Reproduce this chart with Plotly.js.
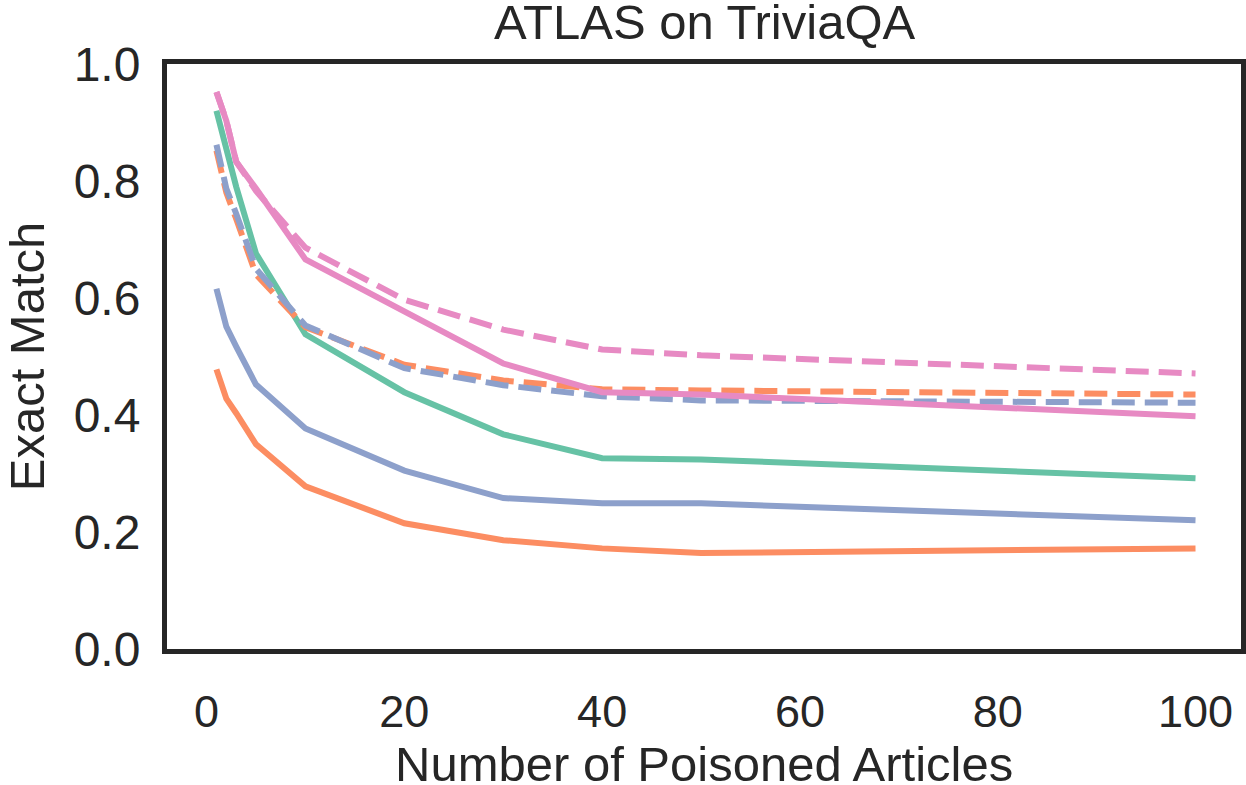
<!DOCTYPE html>
<html>
<head>
<meta charset="utf-8">
<script src="https://cdn.plot.ly/plotly-3.0.1.min.js"></script>
<style>
  html, body { margin: 0; padding: 0; background: #ffffff; }
  #chart { width: 1246px; height: 785px; }
</style>
</head>
<body>
<div id="chart"></div>
<script>
// Number of poisoned articles injected into the retrieval corpus
const articles = [1, 2, 3, 5, 10, 20, 30, 40, 50, 100];

// Exact Match of ATLAS on TriviaQA for each setting
const greenSolid   = [0.920, 0.853, 0.790, 0.676, 0.538, 0.439, 0.367, 0.326, 0.324, 0.292];
const orangeSolid  = [0.478, 0.428, 0.403, 0.350, 0.278, 0.215, 0.186, 0.172, 0.164, 0.172];
const orangeDashed = [0.852, 0.780, 0.735, 0.640, 0.550, 0.486, 0.459, 0.444, 0.442, 0.435];
const blueSolid    = [0.616, 0.551, 0.517, 0.452, 0.377, 0.305, 0.258, 0.249, 0.249, 0.220];
const blueDashed   = [0.862, 0.787, 0.744, 0.650, 0.553, 0.480, 0.451, 0.432, 0.425, 0.421];
const pinkSolid    = [0.952, 0.903, 0.833, 0.787, 0.666, 0.577, 0.488, 0.439, 0.435, 0.398];
const pinkDashed   = [0.952, 0.903, 0.833, 0.783, 0.686, 0.597, 0.546, 0.512, 0.502, 0.471];

const xTicks = [0, 20, 40, 60, 80, 100];
const yTicks = [0.0, 0.2, 0.4, 0.6, 0.8, 1.0];

const GREEN = '#66c2a5', ORANGE = '#fc8d62', BLUE = '#8da0cb', PINK = '#e78ac3';
const DASH = '23px,10px';
const INK = '#262626';
const FONT = 'Liberation Sans, Arial, Helvetica, sans-serif';

function line(y, color, dashed) {
  return {
    x: articles, y: y, type: 'scatter', mode: 'lines',
    line: { color: color, width: 6, dash: dashed ? DASH : 'solid', shape: 'linear' },
    hoverinfo: 'x+y', showlegend: false
  };
}

const traces = [
  line(greenSolid, GREEN, false),
  line(orangeSolid, ORANGE, false),
  line(orangeDashed, ORANGE, true),
  line(blueSolid, BLUE, false),
  line(blueDashed, BLUE, true),
  line(pinkSolid, PINK, false),
  line(pinkDashed, PINK, true)
];

const layout = {
  width: 1246, height: 785,
  margin: { l: 167, r: 5, t: 64, b: 136, pad: 0 },
  paper_bgcolor: '#ffffff', plot_bgcolor: '#ffffff',
  font: { family: FONT, color: INK, size: 45 },
  title: {
    text: 'ATLAS on TriviaQA',
    font: { family: FONT, size: 49, color: INK },
    x: 0.5655, xref: 'container', xanchor: 'center',
    y: 0.972, yref: 'container', yanchor: 'middle'
  },
  xaxis: {
    range: [-4.0, 104.6], tickvals: xTicks, ticktext: xTicks.map(String),
    showgrid: false, zeroline: false,
    showline: true, mirror: true, linewidth: 5, linecolor: INK,
    ticks: 'outside', ticklen: 19, tickcolor: 'rgba(0,0,0,0)',
    tickfont: { family: FONT, size: 45, color: INK },
    automargin: false
  },
  yaxis: {
    range: [0, 1], tickvals: yTicks, ticktext: yTicks.map(v => v.toFixed(1)),
    showgrid: false, zeroline: false,
    showline: true, mirror: true, linewidth: 5, linecolor: INK,
    ticks: 'outside', ticklen: 12, tickcolor: 'rgba(0,0,0,0)',
    tickfont: { family: FONT, size: 48, color: INK },
    title: { text: 'Exact Match', font: { family: FONT, size: 49, color: INK }, standoff: 24 },
    automargin: false
  },
  // x-axis title placed below the tick labels
  annotations: [{
    text: 'Number of Poisoned Articles',
    xref: 'paper', yref: 'paper', x: 0.5, y: 0,
    xanchor: 'center', yanchor: 'middle', yshift: -115,
    showarrow: false,
    font: { family: FONT, size: 49, color: INK }
  }]
};

Plotly.newPlot('chart', traces, layout, { displayModeBar: false, staticPlot: true });
</script>
</body>
</html>
